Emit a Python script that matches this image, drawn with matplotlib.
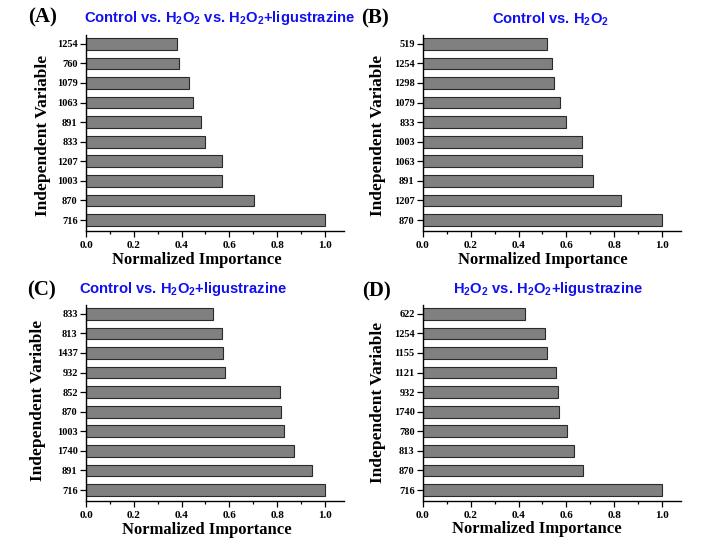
import matplotlib
matplotlib.use("Agg")
import matplotlib.pyplot as plt
from matplotlib.ticker import MultipleLocator

plt.rcParams['font.family'] = 'Liberation Serif'
plt.rcParams['font.weight'] = 'bold'
plt.rcParams['mathtext.fontset'] = 'custom'
plt.rcParams['mathtext.rm'] = 'Liberation Sans:bold'
plt.rcParams['mathtext.bf'] = 'Liberation Sans:bold'
plt.rcParams['mathtext.it'] = 'Liberation Sans:bold'

# Panel A: Control vs. H2O2 vs. H2O2+ligustrazine (bottom to top)
vars_a = ['716', '870', '1003', '1207', '833', '891', '1063', '1079', '760', '1254']
imp_a = [1.0, 0.702, 0.570, 0.568, 0.499, 0.483, 0.446, 0.431, 0.389, 0.382]

# Panel B: Control vs. H2O2
vars_b = ['870', '1207', '891', '1063', '1003', '833', '1079', '1298', '1254', '519']
imp_b = [1.0, 0.830, 0.713, 0.666, 0.667, 0.600, 0.575, 0.547, 0.541, 0.519]

# Panel C: Control vs. H2O2+ligustrazine
vars_c = ['716', '891', '1740', '1003', '870', '852', '932', '1437', '813', '833']
imp_c = [1.0, 0.946, 0.870, 0.827, 0.816, 0.812, 0.583, 0.575, 0.570, 0.530]

# Panel D: H2O2 vs. H2O2+ligustrazine
vars_d = ['716', '870', '813', '780', '1740', '932', '1121', '1155', '1254', '622']
imp_d = [1.0, 0.668, 0.632, 0.604, 0.570, 0.566, 0.558, 0.520, 0.509, 0.425]

titles = [
    r'Control vs. H$_2$O$_2$ vs. H$_2$O$_2$+ligustrazine',
    r'Control vs. H$_2$O$_2$',
    r'Control vs. H$_2$O$_2$+ligustrazine',
    r'H$_2$O$_2$ vs. H$_2$O$_2$+ligustrazine',
]
letters = ['(A)', '(B)', '(C)', '(D)']

W, H = 703, 548
fig = plt.figure(figsize=(W / 100, H / 100), dpi=100)
fig.patch.set_facecolor('white')

# left, axis-bottom (px from top) of each panel
pos = [(86, 231), (423, 231), (86, 501), (423, 501)]
# title centre x, baseline y (px)
tpos = [(220, 22), (550, 24), (183, 293), (548, 293)]
# letter left x, baseline y
lpos = [(28, 22), (361, 23), (27, 295), (362, 296)]
# xlabel centre x, baseline y ; ylabel centre x, centre y
xlpos = [(197, 264), (543, 264), (207, 534), (537, 533)]
ylpos = [(43, 135), (378, 135), (38, 400), (378, 402)]

data = [(vars_a, imp_a), (vars_b, imp_b), (vars_c, imp_c), (vars_d, imp_d)]

for i, (labels, vals) in enumerate(data):
    x0, yb = pos[i]
    ax = fig.add_axes([x0 / W, 1 - yb / H, 258 / W, 196 / H])
    ax.barh(range(len(vals)), vals, height=0.6, color='#808080',
            edgecolor='#2a2a2a', linewidth=0.8)
    ax.set_ylim(-0.56, 9.45)
    ax.set_yticks(range(len(labels)))
    ax.set_yticklabels(labels)
    ax.xaxis.set_minor_locator(MultipleLocator(0.1))
    ax.set_xlim(0, 1.08)
    ax.set_xticks([0, 0.2, 0.4, 0.6, 0.8, 1.0])
    ax.set_xticklabels(['0.0', '0.2', '0.4', '0.6', '0.8', '1.0'])
    for s in ['top', 'right']:
        ax.spines[s].set_visible(False)
    for s in ['left', 'bottom']:
        ax.spines[s].set_linewidth(1.0)
    ax.tick_params(axis='y', which='major', labelsize=7.5, width=0.9,
                   length=4, pad=2, direction='out')
    ax.tick_params(axis='x', which='major', labelsize=8, width=0.9,
                   length=4, pad=3.5, direction='out')
    ax.tick_params(axis='x', which='minor', length=2.5, width=0.9,
                   direction='out')
    for lab in ax.get_xticklabels() + ax.get_yticklabels():
        lab.set_fontweight('bold')

    tx, ty = tpos[i]
    fig.text(tx / W, 1 - ty / H, titles[i], ha='center', va='baseline',
             color='#1010f0', fontsize=10.6, family='Liberation Sans',
             fontweight='bold')
    lx, ly = lpos[i]
    fig.text(lx / W, 1 - ly / H, letters[i], ha='left', va='baseline',
             fontsize=15, fontweight='bold')
    xx, xy = xlpos[i]
    fig.text(xx / W, 1 - xy / H, 'Normalized Importance', ha='center',
             va='baseline', fontsize=12, fontweight='bold')
    yx, yy = ylpos[i]
    fig.text(yx / W, 1 - yy / H, 'Independent Variable', ha='center',
             va='center', rotation=90, fontsize=12.5, fontweight='bold')

fig.savefig('out.png', dpi=100)
